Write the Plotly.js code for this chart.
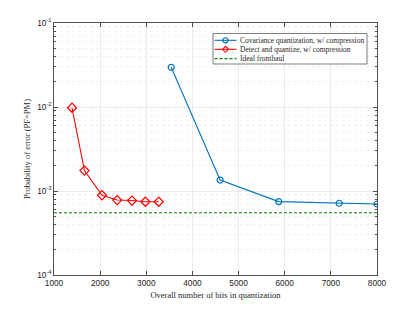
<!DOCTYPE html>
<html><head><meta charset="utf-8">
<script src="https://cdn.plot.ly/plotly-3.0.1.min.js"></script>
<style>html,body{margin:0;padding:0;background:#fff}#c{width:416px;height:309px}</style>
</head><body><div id="c"></div>
<script>
const covBits = [3540, 4600, 5870, 7180, 8000];
const covErr = [0.0297, 0.00135, 0.000748, 0.000715, 0.0007];
const detBits = [1390, 1660, 2040, 2370, 2690, 2980, 3270];
const detErr = [0.0098, 0.00175, 0.00089, 0.00078, 0.00077, 0.000745, 0.000745];
const idealBits = [1000, 8000];
const idealErr = [0.000552, 0.000552];
const names = ['Covariance quantization, w/ compression', 'Detect and quantize, w/ compression', 'Ideal fronthaul'];
const yTickVals = [1e-4, 1e-3, 1e-2, 1e-1];
const yTickText = ['10<sup>-4</sup>', '10<sup>-3</sup>', '10<sup>-2</sup>', '10<sup>-1</sup>'];
const xTickVals = [1000, 2000, 3000, 4000, 5000, 6000, 7000, 8000];

const minorVals = [];
[1e-4, 1e-3, 1e-2].forEach(d => { for (let k = 2; k <= 9; k++) minorVals.push(k * d); });

const blue = '#0072BD', red = '#FF0000', green = '#008000';
const colors = [blue, red, green];

const traces = [
  {x: covBits, y: covErr, name: names[0], mode: 'lines+markers',
   line: {color: blue, width: 1.1},
   marker: {symbol: 'circle-open', size: 6, color: blue, line: {width: 1.2}}},
  {x: detBits, y: detErr, name: names[1], mode: 'lines+markers',
   line: {color: red, width: 1.1},
   marker: {symbol: 'diamond-open', size: 7, color: red, line: {width: 1.2}}},
  {x: idealBits, y: idealErr, name: names[2], mode: 'lines',
   line: {color: green, width: 1.1, dash: '3px,2px'}}
];

// plot area in pixels (layout)
const PL = 54, PR = 377, PT = 23, PB = 275;
const px = X => (X - PL) / (PR - PL);
const py = Y => (PB - Y) / (PB - PT);

// custom compact legend (layout only)
const legBox = {x0: 213, x1: 367, y0: 33.5, y1: 64};
const rowY = [40.3, 49.3, 58.6];
const lineX0 = 214.5, lineX1 = 236.5, markX = 225.5, textX = 238;
const shapes = [{type: 'rect', xref: 'paper', yref: 'paper',
  x0: px(legBox.x0), x1: px(legBox.x1), y0: py(legBox.y1), y1: py(legBox.y0),
  line: {color: '#262626', width: 0.6}, fillcolor: '#fff', layer: 'above'}];
const annotations = [];
names.forEach((n, i) => {
  shapes.push({type: 'line', xref: 'paper', yref: 'paper',
    x0: px(lineX0), x1: px(lineX1), y0: py(rowY[i]), y1: py(rowY[i]),
    line: {color: colors[i], width: 1.1, dash: i === 2 ? '3px,2px' : 'solid'}, layer: 'above'});
  if (i === 0) {
    shapes.push({type: 'circle', xref: 'paper', yref: 'paper', xsizemode: 'pixel', ysizemode: 'pixel',
      xanchor: px(markX), yanchor: py(rowY[i]), x0: -2.6, x1: 2.6, y0: -2.6, y1: 2.6,
      line: {color: colors[i], width: 1.1}, fillcolor: 'rgba(0,0,0,0)', layer: 'above'});
  } else if (i === 1) {
    shapes.push({type: 'path', xref: 'paper', yref: 'paper', xsizemode: 'pixel', ysizemode: 'pixel',
      xanchor: px(markX), yanchor: py(rowY[i]), path: 'M -3 0 L 0 3 L 3 0 L 0 -3 Z',
      line: {color: colors[i], width: 1.1}, fillcolor: 'rgba(0,0,0,0)', layer: 'above'});
  }
  annotations.push({xref: 'paper', yref: 'paper', x: px(textX), y: py(rowY[i]),
    xanchor: 'left', yanchor: 'middle', showarrow: false, text: n,
    font: {family: 'Liberation Serif, Times New Roman', size: 7.5, color: '#262626'}});
});

const axisCommon = {
  showline: true, mirror: 'ticks', linecolor: '#262626', linewidth: 0.8,
  ticks: 'inside', ticklen: 4, tickcolor: '#262626', tickwidth: 0.8,
  showgrid: true, gridcolor: '#e6e6e6', gridwidth: 0.8, zeroline: false,
  tickfont: {family: 'Liberation Sans, Arial', size: 8.3, color: '#262626'}
};

const layout = {
  width: 416, height: 309,
  margin: {l: PL, r: 416 - PR, t: PT, b: 309 - PB},
  paper_bgcolor: '#fff', plot_bgcolor: '#fff',
  showlegend: false,
  shapes: shapes, annotations: annotations,
  xaxis: Object.assign({}, axisCommon, {
    range: [1000, 8000], tickmode: 'array', tickvals: xTickVals,
    title: {text: 'Overall number of bits in quantization', standoff: 5,
      font: {family: 'Liberation Serif, Times New Roman', size: 8.5, color: '#262626'}}
  }),
  yaxis: Object.assign({}, axisCommon, {
    type: 'log', range: [-4, -1], tickmode: 'array', tickvals: yTickVals, ticktext: yTickText,
    minor: {tickmode: 'array', tickvals: minorVals, showgrid: true, gridcolor: '#ececec',
      griddash: 'dot', ticks: 'inside', ticklen: 2, tickcolor: '#262626'},
    title: {text: 'Probability of error (PF=PM)', standoff: 5,
      font: {family: 'Liberation Serif, Times New Roman', size: 8.5, color: '#262626'}}
  })
};

Plotly.newPlot('c', traces, layout, {displayModeBar: false, staticPlot: true});
</script></body></html>
